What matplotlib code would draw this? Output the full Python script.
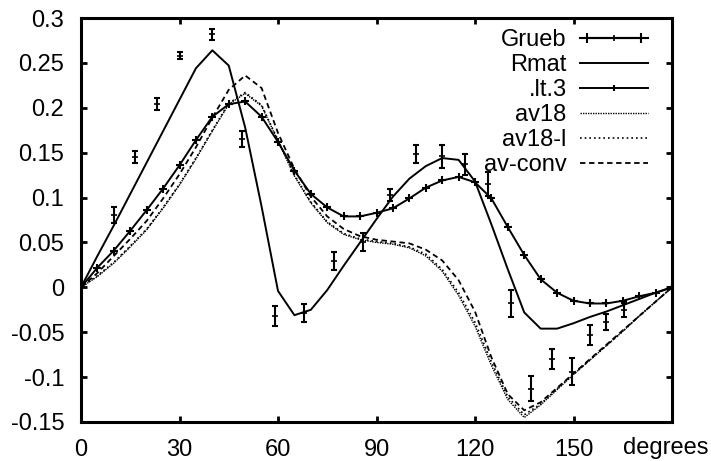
import numpy as np
import matplotlib
matplotlib.use("Agg")
import matplotlib.pyplot as plt
from matplotlib.lines import Line2D
from matplotlib.legend_handler import HandlerLine2D, HandlerTuple

plt.rcParams['font.family'] = ['Liberation Sans', 'DejaVu Sans']

# Grueb data points with error bars
grueb_x = [10, 16.5, 23, 30, 40, 49, 59, 68, 77, 86, 94, 102, 110, 117, 124, 131, 137, 143.5, 149.5, 155, 160, 165.5]
grueb_y = [0.081, 0.145, 0.204, 0.258, 0.282, 0.165, -0.032, -0.029, 0.029, 0.050, 0.103, 0.148,
           0.146, 0.137, 0.115, -0.018, -0.113, -0.080, -0.094, -0.053, -0.039, -0.025]
grueb_err = [0.009, 0.007, 0.007, 0.004, 0.006, 0.009, 0.011, 0.010, 0.010, 0.010, 0.007, 0.010,
             0.013, 0.012, 0.013, 0.015, 0.014, 0.011, 0.015, 0.011, 0.009, 0.008]

# curves sampled every 5 degrees
angles = list(range(0, 181, 5))
rmat = [0, 0.035, 0.069, 0.104, 0.139, 0.174, 0.209, 0.244, 0.264, 0.247, 0.178, 0.09,
        -0.004, -0.031, -0.025, -0.003, 0.024, 0.05, 0.076, 0.101, 0.121, 0.135, 0.144, 0.142,
        0.118, 0.07, 0.02, -0.028, -0.046, -0.046, -0.04, -0.033, -0.027, -0.02, -0.013, -0.006, 0]
lt3 = [0, 0.022, 0.041, 0.063, 0.086, 0.110, 0.136, 0.164, 0.190, 0.204, 0.207, 0.190,
       0.162, 0.130, 0.104, 0.089, 0.079, 0.079, 0.083, 0.088, 0.099, 0.111, 0.119, 0.123,
       0.117, 0.099, 0.067, 0.036, 0.009, -0.006, -0.015, -0.018, -0.018, -0.015, -0.010, -0.006, 0]
av18 = [0, 0.012, 0.027, 0.045, 0.064, 0.088, 0.114, 0.143, 0.174, 0.204, 0.216, 0.202,
        0.163, 0.124, 0.094, 0.072, 0.059, 0.053, 0.050, 0.048, 0.044, 0.035, 0.018, -0.009,
        -0.043, -0.087, -0.125, -0.145, -0.131, -0.114, -0.097, -0.081, -0.065, -0.049, -0.032, -0.016, 0]
av18l = [0, 0.013, 0.028, 0.046, 0.065, 0.089, 0.115, 0.144, 0.175, 0.205, 0.217, 0.203,
         0.164, 0.125, 0.095, 0.073, 0.060, 0.054, 0.051, 0.049, 0.045, 0.037, 0.020, -0.006,
         -0.039, -0.083, -0.122, -0.142, -0.130, -0.113, -0.097, -0.081, -0.065, -0.049, -0.032, -0.016, 0]
avconv = [0, 0.016, 0.035, 0.054, 0.074, 0.099, 0.126, 0.156, 0.189, 0.220, 0.236, 0.222,
          0.172, 0.132, 0.101, 0.079, 0.065, 0.057, 0.053, 0.051, 0.049, 0.042, 0.030, 0.008,
          -0.027, -0.078, -0.119, -0.137, -0.128, -0.112, -0.096, -0.080, -0.064, -0.048, -0.032, -0.016, 0]

xticks = [0, 30, 60, 90, 120, 150, 180]
xlabels = ['0', '30', '60', '90', '120', '150', '']
yticks = [0.3, 0.25, 0.2, 0.15, 0.1, 0.05, 0, -0.05, -0.1, -0.15]
ylabels = ['0.3', '0.25', '0.2', '0.15', '0.1', '0.05', '0', '-0.05', '-0.1', '-0.15']

fs = 17

fig = plt.figure(figsize=(7.11, 4.61), dpi=100)
ax = fig.add_axes([81 / 711, 1 - 422 / 461, 591 / 711, 404 / 461])

ax.errorbar(grueb_x, grueb_y, yerr=grueb_err, fmt='none', ecolor='black',
            elinewidth=1.5, capsize=2.5, capthick=1.5)
ax.plot(grueb_x, grueb_y, '+', color='black', ms=4, mew=1.2)
ax.plot(angles, rmat, '-', color='black', lw=1.4)
ax.plot(angles, lt3, '-', color='black', lw=1.4, marker='+', ms=6, mew=1.5)
ax.plot(angles, av18, color='black', lw=1.0, linestyle=(0, (1, 0.8)))
ax.plot(angles, av18l, color='black', lw=1.2, linestyle=(0, (1, 1.8)))
ax.plot(angles, avconv, color='black', lw=1.3, linestyle=(0, (3, 2)))

ax.set_xlim(0, 180)
ax.set_ylim(-0.15, 0.3)
ax.set_xticks(xticks)
ax.set_xticklabels(xlabels)
ax.set_yticks(yticks)
ax.set_yticklabels(ylabels)
ax.tick_params(direction='in', length=4, width=2, labelsize=fs,
               top=True, right=True)
ax.tick_params(axis='x', pad=12)
ax.tick_params(axis='y', pad=12)
for s in ax.spines.values():
    s.set_linewidth(2.2)
ax.text(178.2, -0.079, 'degrees', transform=ax.get_xaxis_transform(),
        ha='center', va='baseline', fontsize=fs)

# legend samples in gnuplot style
caps = Line2D([], [], color='black', lw=1.5, marker='|', ms=7, mew=1.5)
mid = Line2D([], [], color='black', lw=1.5, marker='|', ms=5, mew=1.2)
h_rmat = Line2D([], [], color='black', lw=1.4)
h_lt3 = Line2D([], [], color='black', lw=1.4, marker='|', ms=5, mew=1.5)
h_av18 = Line2D([], [], color='black', lw=1.0, linestyle=(0, (1, 0.8)))
h_av18l = Line2D([], [], color='black', lw=1.2, linestyle=(0, (1, 1.8)))
h_avconv = Line2D([], [], color='black', lw=1.3, linestyle=(0, (3, 2)))

leg = fig.legend([(caps, mid), h_rmat, h_lt3, h_av18, h_av18l, h_avconv],
                 ['Grueb', 'Rmat', '.lt.3', 'av18', 'av18-l', 'av-conv'],
                 handler_map={caps: HandlerLine2D(numpoints=2), tuple: HandlerTuple(ndivide=1)},
                 loc='upper right', bbox_to_anchor=(648 / 711, 1 - 29 / 461),
                 frameon=False, markerfirst=False, fontsize=fs, numpoints=1,
                 handlelength=2.9, handletextpad=0.55, labelspacing=0.13,
                 borderpad=0, borderaxespad=0)

plt.savefig('out.png', dpi=100)
